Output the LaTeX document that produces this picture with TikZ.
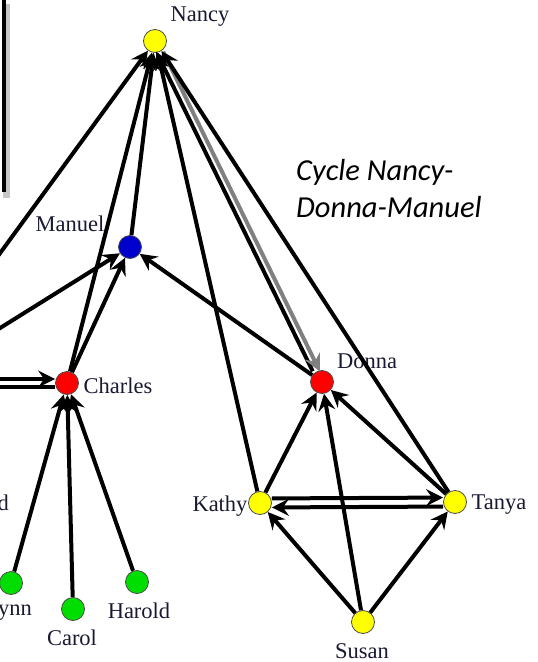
\documentclass[tikz,border=0pt]{standalone}
\usepackage{fontspec}
\setmainfont{Liberation Serif}
\newfontfamily\notefont{Carlito}
\usetikzlibrary{arrows.meta}
\definecolor{pyellow}{RGB}{255,255,0}
\definecolor{pred}{RGB}{255,0,0}
\definecolor{pblue}{RGB}{0,0,204}
\definecolor{pgreen}{RGB}{0,221,0}
\definecolor{cyclegray}{RGB}{128,128,128}
\definecolor{nametext}{RGB}{25,25,50}
\begin{document}
\begin{tikzpicture}[x=1pt,y=-1pt,
    person/.style={circle,draw=black!70,line width=0.8pt,minimum size=23pt,inner sep=0pt},
    plabel/.style={font=\fontsize{22.5}{26}\selectfont,inner sep=0pt,text=nametext},
    edge/.style={-{Stealth[length=17pt,width=17pt,inset=6pt]},line width=4pt},
    cycleedge/.style={edge,cyclegray}]
  \useasboundingbox (0,0) rectangle (538,662);
  \clip (0,0) rectangle (538,662);
  % edge of the box at the top left
  \fill[gray!45] (3,4) rectangle (10,198);
  \fill[black] (2,0) rectangle (6,192);
  % people
  \path (155,41) node[person,fill=pyellow] (nancy) {};
  \path (130,247) node[person,fill=pblue] (manuel) {};
  \path (67,383) node[person,fill=pred] (charles) {};
  \path (322,382) node[person,fill=pred] (donna) {};
  \path (260,503) node[person,fill=pyellow] (kathy) {};
  \path (455,502) node[person,fill=pyellow] (tanya) {};
  \path (363,622) node[person,fill=pyellow] (susan) {};
  \path (11,583) node[person,fill=pgreen] (lynn) {};
  \path (73,609) node[person,fill=pgreen] (carol) {};
  \path (137,582) node[person,fill=pgreen] (harold) {};
  % names
  \path (200,17) node[plabel] (nancy-l) {Nancy};
  \path (70,224) node[plabel] (manuel-l) {Manuel};
  \path (118,386) node[plabel] (charles-l) {Charles};
  \path (367,361) node[plabel] (donna-l) {Donna};
  \path (220,506) node[plabel] (kathy-l) {Kathy};
  \path (499,505) node[plabel] (tanya-l) {Tanya};
  \path (362,651) node[plabel] (susan-l) {Susan};
  \path (72,638) node[plabel] (carol-l) {Carol};
  \path (139,611) node[plabel] (harold-l) {Harold};
  \path (-2,613) node[plabel,anchor=west] (lynn-l) {ynn};
  \path (9,503) node[plabel,anchor=east] (west-l) {d};
  \path (296,189) node[anchor=west,align=left,inner sep=0pt,
    font=\notefont\itshape\fontsize{30.5}{37}\selectfont] (note) {Cycle Nancy-\\Donna-Manuel};
  % ends of edges outside the view
  \coordinate (westA) at (-40,308);
  \coordinate (westB) at (-40,353);
  \coordinate (westC) at (-40,379);
  \coordinate (westD) at (-40,387);
  % edges
  \draw[edge] (westA) -- (nancy);
  \draw[edge] (charles) -- (nancy);
  \draw[edge] (manuel) -- (nancy);
  \draw[edge] (kathy) -- (nancy);
  \draw[edge,transform canvas={xshift=-4pt}] (donna) -- (nancy);
  \draw[cycleedge,transform canvas={xshift=3pt}] (nancy) -- (donna);
  \draw[edge] (tanya) -- (nancy);
  \draw[edge] (westB) -- (manuel);
  \draw[edge] (charles) -- (manuel);
  \draw[edge] (donna) -- (manuel);
  \draw[edge] (westC) -- (charles.west |- westC);
  \draw[edge] (charles.west |- westD) -- (westD);
  \draw[edge] (lynn) -- (charles);
  \draw[edge] (carol) -- (charles);
  \draw[edge] (harold) -- (charles);
  \draw[edge] (kathy) -- (donna);
  \draw[edge] (tanya) -- (donna);
  \draw[edge] (susan) -- (donna);
  \draw[edge,transform canvas={yshift=4.5pt}] (kathy) -- (tanya);
  \draw[edge,transform canvas={yshift=-4.5pt}] (tanya) -- (kathy);
  \draw[edge] (susan) -- (kathy);
  \draw[edge] (susan) -- (tanya);
\end{tikzpicture}
\end{document}
